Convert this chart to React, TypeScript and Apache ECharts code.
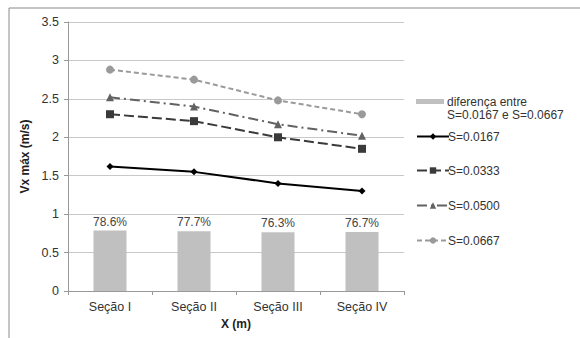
import React, { useEffect, useRef } from "react";
import * as echarts from "echarts";

const categories = ["Seção I", "Seção II", "Seção III", "Seção IV"];
const diffValues = [0.786, 0.777, 0.763, 0.767];
const s0167 = [1.62, 1.55, 1.40, 1.30];
const s0333 = [2.30, 2.21, 2.00, 1.85];
const s0500 = [2.52, 2.40, 2.17, 2.02];
const s0667 = [2.88, 2.75, 2.48, 2.30];
const diffName = "diferença entre\nS=0.0167 e S=0.0667";

export default function App() {
  const ref = useRef<HTMLDivElement>(null);
  useEffect(() => {
    const chart = echarts.init(ref.current!, null, { renderer: "svg" });
    const font = "Liberation Sans, Arial, sans-serif";
    const legendBase = (name: string, top: number) => ({
      data: [name],
      orient: "vertical",
      left: 411,
      top,
      itemWidth: 32,
      itemHeight: 8,
      itemGap: 0,
      selectedMode: false,
      textStyle: { fontFamily: font, fontSize: 12, color: "#333", lineHeight: 13, padding: [0, 0, 0, -6] },
    });
    chart.setOption({
      animation: false,
      backgroundColor: "#fff",
      textStyle: { fontFamily: font },
      graphic: [
        {
          type: "rect",
          shape: { x: 9, y: 8, width: 600, height: 400 },
          style: { fill: "none", stroke: "#8a8a8a", lineWidth: 1 },
          silent: true,
        },
      ],
      legend: [
        {
          ...legendBase(diffName, 90),
          itemWidth: 28,
          itemHeight: 26,
          data: [
            {
              name: diffName,
              icon: "path://M0,0h0.01v0.01h-0.01Z M0,4H28V9H0Z M0,26h0.01v0.01h-0.01Z",
            },
          ],
          textStyle: { fontFamily: font, fontSize: 12, color: "#333", lineHeight: 13, padding: [0, 0, 0, -2] },
        },
        legendBase("S=0.0167", 125),
        legendBase("S=0.0333", 159),
        legendBase("S=0.0500", 194),
        legendBase("S=0.0667", 229),
      ],
      grid: { left: 68, right: 176, top: 22, bottom: 47, containLabel: false },
      xAxis: {
        type: "category",
        data: categories,
        name: "X (m)",
        nameLocation: "middle",
        nameGap: 25,
        nameTextStyle: { fontFamily: font, fontSize: 12, fontWeight: "bold", color: "#222" },
        axisLine: { lineStyle: { color: "#999" } },
        axisTick: { show: true, length: 4, lineStyle: { color: "#999" } },
        axisLabel: { fontFamily: font, fontSize: 12.5, color: "#333", margin: 9 },
      },
      yAxis: {
        type: "value",
        min: 0,
        max: 3.5,
        interval: 0.5,
        name: "Vx máx (m/s)",
        nameLocation: "middle",
        nameGap: 37,
        nameRotate: 90,
        nameTextStyle: { fontFamily: font, fontSize: 12, fontWeight: "bold", color: "#222" },
        axisLine: { show: true, lineStyle: { color: "#999" } },
        axisTick: { show: true, length: 4, lineStyle: { color: "#999" } },
        axisLabel: { fontFamily: font, fontSize: 12.5, color: "#333", margin: 9 },
        splitLine: { lineStyle: { color: "#c8c8c8" } },
      },
      series: [
        {
          name: diffName,
          type: "bar",
          data: diffValues,
          barWidth: 33,
          itemStyle: { color: "#c0c0c0" },
          label: {
            show: true,
            position: "top",
            distance: 3,
            fontFamily: font,
            fontSize: 12,
            color: "#444",
            formatter: (p: any) => (p.value * 100).toFixed(1) + "%",
          },
          z: 1,
        },
        {
          name: "S=0.0167",
          type: "line",
          data: s0167,
          symbol: "diamond",
          symbolSize: 7,
          itemStyle: { color: "#000" },
          lineStyle: { color: "#000", width: 2 },
          z: 3,
        },
        {
          name: "S=0.0333",
          type: "line",
          data: s0333,
          symbol: "rect",
          symbolSize: 8,
          itemStyle: { color: "#3a3a3a" },
          lineStyle: { color: "#3a3a3a", width: 2, type: [10, 4] },
          z: 3,
        },
        {
          name: "S=0.0500",
          type: "line",
          data: s0500,
          symbol: "triangle",
          symbolSize: 8,
          itemStyle: { color: "#626262" },
          lineStyle: { color: "#626262", width: 2, type: [10, 4, 2, 4] },
          z: 3,
        },
        {
          name: "S=0.0667",
          type: "line",
          data: s0667,
          symbol: "circle",
          symbolSize: 8,
          itemStyle: { color: "#9a9a9a" },
          lineStyle: { color: "#9a9a9a", width: 2, type: [5, 3] },
          z: 3,
        },
      ],
    });
    return () => chart.dispose();
  }, []);
  return (
    <div
      ref={ref}
      style={{ width: 580, height: 338, position: "fixed", left: 0, top: 0 }}
    />
  );
}
